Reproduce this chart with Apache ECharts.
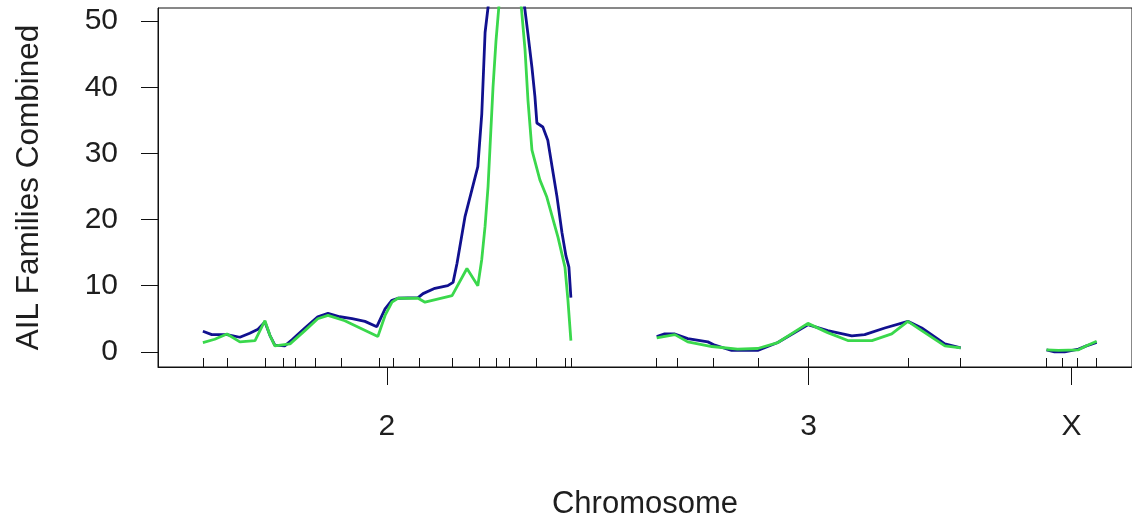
<!DOCTYPE html>
<html>
<head>
<meta charset="utf-8">
<script src="https://cdn.jsdelivr.net/npm/echarts@6/dist/echarts.min.js"></script>
<style>html,body{margin:0;padding:0;background:#fff;}#c{width:1132px;height:521px;}</style>
</head>
<body>
<div id="c"></div>
<script>
// ---- data ----
const chromosomes = ['2', '3', 'X'];
const chrLengths = [111.5, 92.1, 15.2];      // cM
const chrGap = 26;                            // cM between chromosomes
const markers2 = [0, 7.3, 18.8, 24.2, 27.9, 33.9, 41.8, 53.3, 57.6, 65.5, 75.5, 83.6, 88.8, 92.7, 100.9, 109.7, 111.5];
const markers3 = [0, 6.1, 17.0, 30.9, 45.8, 76.1, 92.1];
const markersX = [0, 4.8, 9.4, 15.2];
const yTicks = [0, 10, 20, 30, 40, 50];

// LOD curves: [position (cM), LOD]
const blue2 = [[0,3.1],[2.7,2.6],[7.3,2.6],[11.2,2.2],[14.2,2.8],[16.7,3.4],[18.8,4.5],[20.3,2.5],[21.8,1.0],[24.8,0.9],[27.0,1.8],[30.9,3.6],[34.8,5.3],[37.9,5.8],[41.5,5.3],[45.2,5.0],[49.1,4.6],[52.7,3.8],[55.2,6.5],[57.3,7.8],[59.1,8.1],[65.2,8.2],[66.7,8.8],[70.3,9.6],[74.2,10.0],[75.8,10.5],[77.0,13.4],[79.4,20.4],[81.5,24.5],[83.3,28],[84.5,36],[85.5,48.3],[91.8,75],[98.5,48],[99.7,43],[100.6,38.6],[101.2,34.6],[103.0,34.0],[104.5,32.0],[105.8,28.0],[107.3,23.4],[108.8,18],[110.0,14.5],[110.9,12.8],[111.5,8.2]];
const green2 = [[0,1.4],[3.6,1.9],[7.3,2.7],[11.2,1.5],[15.8,1.7],[18.8,4.7],[20.3,2.5],[21.8,0.9],[26.4,1.2],[30.9,3.2],[34.8,5.0],[37.9,5.5],[43.0,4.7],[47.6,3.6],[53.0,2.3],[55.2,5.5],[57.3,7.5],[59.1,8.1],[65.2,8.1],[67.3,7.5],[75.5,8.5],[80.0,12.6],[83.3,10.0],[84.5,14],[85.5,19],[86.4,25],[87.0,31],[87.9,40],[88.8,47],[93.0,72],[97.6,45.7],[98.5,38],[99.7,30.5],[102.1,26],[104.2,23.4],[107.6,17.3],[109.7,12.8],[110.6,7.8],[111.5,1.7]];
const blue3 = [[0,2.3],[2.4,2.7],[5.5,2.7],[9.4,2.0],[15.5,1.5],[17.6,1.0],[22.7,0.2],[30.6,0.2],[36.7,1.4],[45.8,4.1],[51.8,3.2],[59.1,2.4],[63.0,2.6],[69.1,3.6],[76.1,4.6],[80.3,3.6],[87.3,1.2],[92.1,0.6]];
const green3 = [[0,2.1],[5.5,2.6],[9.4,1.5],[16.7,0.8],[24.5,0.4],[30.6,0.5],[36.7,1.4],[45.8,4.3],[51.8,2.9],[57.9,1.7],[65.2,1.7],[71.2,2.7],[76.1,4.6],[80.3,3.2],[87.3,0.9],[92.1,0.6]];
const blueX = [[0,0.3],[2.4,0.0],[5.5,0.0],[9.7,0.4],[12.1,0.9],[15.2,1.4]];
const greenX = [[0,0.3],[3.6,0.2],[9.7,0.3],[12.1,0.9],[15.2,1.6]];

// ---- layout of chromosomes on a common axis ----
const offsets = [];
let acc = 0;
chrLengths.forEach((L) => { offsets.push(acc); acc += L + chrGap; });
const centers = chrLengths.map((L, i) => offsets[i] + L / 2);
const markerAbs = [markers2, markers3, markersX].flatMap((m, i) => m.map(v => v + offsets[i]));
const shift = (arr, i) => arr.map(p => [p[0] + offsets[i], p[1]]);

const BLUE = '#11118f';
const GREEN = '#3ad84c';
const FONT = '"Liberation Sans", Arial, sans-serif';
const TXT = '#1e1e1e';
const FS = 30;
const XMIN = -13.6, XMAX = 281.5;

function lineSeries(data, color, z) {
  return { type: 'line', xAxisIndex: 0, yAxisIndex: 0, data: data, showSymbol: false, symbol: 'none',
           lineStyle: { color: color, width: 2.8 }, itemStyle: { color: color }, z: z, clip: true, animation: false };
}

const chart = echarts.init(document.getElementById('c'), null, { renderer: 'canvas' });
chart.setOption({
  animation: false,
  backgroundColor: '#ffffff',
  grid: { left: 158, right: 0, top: 8, bottom: 154, show: true, borderColor: '#111', borderWidth: 1,
          containLabel: false, outerBoundsMode: 'none' },
  xAxis: [
    { type: 'value', position: 'bottom', min: XMIN, max: XMAX,
      name: 'Chromosome', nameLocation: 'middle', nameGap: 122,
      nameTextStyle: { fontSize: 31, fontFamily: FONT, color: TXT },
      axisLine: { show: true, onZero: false, lineStyle: { color: '#111', width: 1 } },
      axisTick: { show: true, inside: false, length: 18, customValues: centers, lineStyle: { color: '#111', width: 1 } },
      axisLabel: { show: true, margin: 45, customValues: centers, fontSize: FS, fontFamily: FONT, color: TXT,
                   formatter: (v) => { const i = centers.findIndex(c => Math.abs(c - v) < 1e-6); return i >= 0 ? chromosomes[i] : ''; } },
      splitLine: { show: false } },
    { type: 'value', position: 'bottom', min: XMIN, max: XMAX, gridIndex: 0,
      axisLine: { show: false, onZero: false },
      axisTick: { show: true, inside: true, length: 9, customValues: markerAbs, lineStyle: { color: '#111', width: 1 } },
      axisLabel: { show: false },
      splitLine: { show: false } }
  ],
  yAxis: {
    type: 'value', min: -2.3, max: 52,
    name: 'AIL Families Combined', nameLocation: 'middle', nameGap: 113, nameRotate: 90,
    nameTextStyle: { fontSize: 31.5, fontFamily: FONT, color: TXT },
    axisLine: { show: true, onZero: false, lineStyle: { color: '#111', width: 1 } },
    axisTick: { show: true, length: 17, customValues: yTicks, lineStyle: { color: '#111', width: 1 } },
    axisLabel: { show: true, margin: 40, customValues: yTicks, fontSize: FS, fontFamily: FONT, color: TXT },
    splitLine: { show: false }
  },
  series: [
    lineSeries(shift(blue2, 0), BLUE, 2),
    lineSeries(shift(blue3, 1), BLUE, 2),
    lineSeries(shift(blueX, 2), BLUE, 2),
    lineSeries(shift(green2, 0), GREEN, 3),
    lineSeries(shift(green3, 1), GREEN, 3),
    lineSeries(shift(greenX, 2), GREEN, 3)
  ]
});
</script>
</body>
</html>
